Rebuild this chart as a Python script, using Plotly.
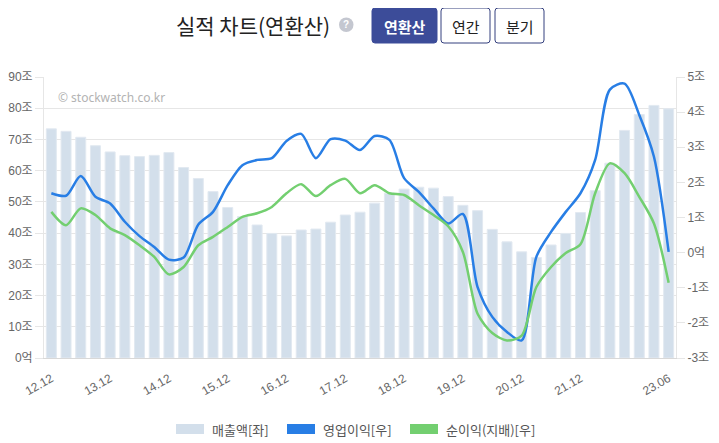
import plotly.graph_objects as go

# ---------------- data ----------------
periods = ["12.12",
           "13.03", "13.06", "13.09", "13.12",
           "14.03", "14.06", "14.09", "14.12",
           "15.03", "15.06", "15.09", "15.12",
           "16.03", "16.06", "16.09", "16.12",
           "17.03", "17.06", "17.09", "17.12",
           "18.03", "18.06", "18.09", "18.12",
           "19.03", "19.06", "19.09", "19.12",
           "20.03", "20.06", "20.09", "20.12",
           "21.03", "21.06", "21.09", "21.12",
           "22.03", "22.06", "22.09", "22.12",
           "23.03", "23.06"]

revenue = [73.4, 72.6, 70.7, 68.0, 66.0, 64.8, 64.5, 64.9, 65.8, 61.0,
           57.5, 53.3, 48.2, 45.3, 42.6, 39.9, 39.1, 41.0, 41.3, 43.5,
           45.8, 46.7, 49.6, 52.8, 54.1, 54.7, 54.4, 51.7, 48.9, 47.2,
           41.2, 37.2, 34.0, 32.2, 36.2, 39.9, 46.6, 53.6, 62.4, 72.9,
           78.0, 80.9, 79.8]

op_income = [1.69, 1.62, 2.18, 1.59, 1.40, 0.88, 0.47, 0.16, -0.20, -0.14,
             0.80, 1.16, 1.92, 2.49, 2.64, 2.69, 3.18, 3.38, 2.69, 3.23,
             3.19, 2.92, 3.32, 3.21, 2.12, 1.73, 1.26, 0.83, 1.10, -0.98,
             -1.83, -2.26, -2.50, -0.12, 0.59, 1.16, 1.69, 2.64, 4.64, 4.81,
             3.92, 2.73, 0.02]

net_income = [1.16, 0.78, 1.26, 1.07, 0.69, 0.50, 0.21, -0.12, -0.62, -0.41,
              0.21, 0.45, 0.73, 1.02, 1.12, 1.30, 1.69, 1.95, 1.61, 1.92,
              2.10, 1.69, 1.92, 1.69, 1.64, 1.35, 1.07, 0.75, 0.02, -1.74,
              -2.29, -2.50, -2.36, -0.98, -0.41, -0.01, 0.24, 1.69, 2.54, 2.26,
              1.59, 0.83, -0.86]

x_tick_labels = ["12.12", "13.12", "14.12", "15.12", "16.12", "17.12",
                 "18.12", "19.12", "20.12", "21.12", "23.06"]

left_ticks = [0, 10, 20, 30, 40, 50, 60, 70, 80, 90]
left_tick_text = ["0억", "10조", "20조", "30조", "40조", "50조", "60조", "70조", "80조", "90조"]
right_ticks = [-3, -2, -1, 0, 1, 2, 3, 4, 5]
right_tick_text = ["-3조", "-2조", "-1조", "0억", "1조", "2조", "3조", "4조", "5조"]

series_names = ["매출액[좌]", "영업이익[우]", "순이익(지배)[우]"]

# ---------------- style ----------------
# the page body has an 8px default margin, so the figure is drawn 8px in
OFF = 8
WF, HF = 719 - OFF, 443 - OFF
L, R, T, B = 44 - OFF, 43, 77 - OFF, 85
BAR_COLOR = "rgb(211,223,235)"
BAR_LINE = "rgb(226,233,241)"
BLUE = "rgb(40,126,229)"
GREEN = "rgb(115,207,112)"
GRID = "#e6e6e6"
TICK_FONT = dict(family="Liberation Sans, Noto Sans CJK KR, sans-serif", size=12, color="#666666")
KR = "Noto Sans CJK KR, sans-serif"


def px(x):
    return (x - OFF - L) / (WF - L - R)


def py(y):
    return (HF - B - (y - OFF)) / (HF - T - B)


fig = go.Figure()
fig.add_trace(go.Bar(x=periods, y=revenue, name=series_names[0],
                     marker=dict(color=BAR_COLOR, line=dict(color=BAR_LINE, width=1)),
                     yaxis="y", showlegend=False))
fig.add_trace(go.Scatter(x=periods, y=op_income, name=series_names[1], mode="lines",
                         line=dict(color=BLUE, width=2.5, shape="spline", smoothing=0.8),
                         yaxis="y2", showlegend=False))
fig.add_trace(go.Scatter(x=periods, y=net_income, name=series_names[2], mode="lines",
                         line=dict(color=GREEN, width=2.5, shape="spline", smoothing=0.8),
                         yaxis="y2", showlegend=False))

fig.update_layout(
    width=WF, height=HF,
    margin=dict(l=L, r=R, t=T, b=B, autoexpand=False),
    paper_bgcolor="white", plot_bgcolor="white",
    bargap=0.32,
    showlegend=False,
    xaxis=dict(type="category", range=[-0.5, len(periods) - 0.5],
               tickmode="array", tickvals=x_tick_labels, ticktext=x_tick_labels,
               tickangle=-30, tickfont=dict(family="Liberation Sans, sans-serif", size=12, color="#666666"),
               showgrid=False, showline=True, linecolor="#d8d8d8", linewidth=1,
               ticks="", ticklabelstandoff=8, zeroline=False, fixedrange=True),
    yaxis=dict(range=[0, 90], tickmode="array", tickvals=left_ticks, ticktext=left_tick_text,
               tickfont=TICK_FONT, showgrid=True, gridcolor=GRID, gridwidth=1,
               showline=True, linecolor=GRID, ticks="outside", ticklen=8, tickcolor=GRID,
               zeroline=False, fixedrange=True),
    yaxis2=dict(range=[-3, 5], overlaying="y", side="right", tickmode="array",
                tickvals=right_ticks, ticktext=right_tick_text, tickfont=TICK_FONT,
                showgrid=False, showline=True, linecolor=GRID, ticks="outside", ticklen=8,
                tickcolor=GRID, zeroline=False, fixedrange=True),
)

shapes = []
annotations = []

# title
annotations.append(dict(xref="paper", yref="paper", x=px(253), y=py(25), text="실적 차트(연환산)",
                        showarrow=False, xanchor="center", yanchor="middle",
                        font=dict(family=KR, size=21, color="#222222")))
# help icon
shapes.append(dict(type="circle", xref="paper", yref="paper",
                   x0=px(339), x1=px(353.5), y0=py(32), y1=py(17.5),
                   fillcolor="#c4c7d0", line=dict(width=0)))
annotations.append(dict(xref="paper", yref="paper", x=px(346.3), y=py(25), text="<b>?</b>",
                        showarrow=False, xanchor="center", yanchor="middle",
                        font=dict(family="Liberation Sans, sans-serif", size=10, color="white")))


def rrect(x0, y0, x1, y1, r=3):
    X0, X1 = px(x0), px(x1)
    Y0, Y1 = py(y0), py(y1)
    rx = r / (WF - L - R)
    ry = r / (HF - T - B)
    return (f"M {X0 + rx} {Y0} L {X1 - rx} {Y0} Q {X1} {Y0} {X1} {Y0 - ry} "
            f"L {X1} {Y1 + ry} Q {X1} {Y1} {X1 - rx} {Y1} L {X0 + rx} {Y1} "
            f"Q {X0} {Y1} {X0} {Y1 + ry} L {X0} {Y0 - ry} Q {X0} {Y0} {X0 + rx} {Y0} Z")


buttons = [("연환산", 372, 437, True), ("연간", 441, 490, False), ("분기", 495, 544, False)]
for label, bx0, bx1, active in buttons:
    shapes.append(dict(type="path", xref="paper", yref="paper", path=rrect(bx0, 8, bx1, 43),
                       fillcolor="#3c4c99" if active else "white",
                       line=dict(color="#3c4c99" if active else "#34407e", width=1)))
    annotations.append(dict(xref="paper", yref="paper", x=px((bx0 + bx1) / 2), y=py(26),
                            text=f"<b>{label}</b>" if active else label,
                            showarrow=False, xanchor="center", yanchor="middle",
                            font=dict(family=KR, size=15, color="white" if active else "#222222")))

# watermark
annotations.append(dict(xref="paper", yref="paper", x=px(56), y=py(97), text="© stockwatch.co.kr",
                        showarrow=False, xanchor="left", yanchor="middle",
                        font=dict(family="Noto Sans, sans-serif", size=12, color="#b3b3b3")))

# legend
legend_items = [(series_names[0], BAR_COLOR, 176), (series_names[1], BLUE, 287), (series_names[2], GREEN, 410)]
for name, col, lx in legend_items:
    shapes.append(dict(type="rect", xref="paper", yref="paper",
                       x0=px(lx), x1=px(lx + 28), y0=py(434), y1=py(424),
                       fillcolor=col, line=dict(width=0)))
    annotations.append(dict(xref="paper", yref="paper", x=px(lx + 34), y=py(429), text=name,
                            showarrow=False, xanchor="left", yanchor="middle",
                            font=dict(family=KR, size=13, color="#555555")))

fig.update_layout(shapes=shapes, annotations=annotations)
fig.write_html("out.html")
